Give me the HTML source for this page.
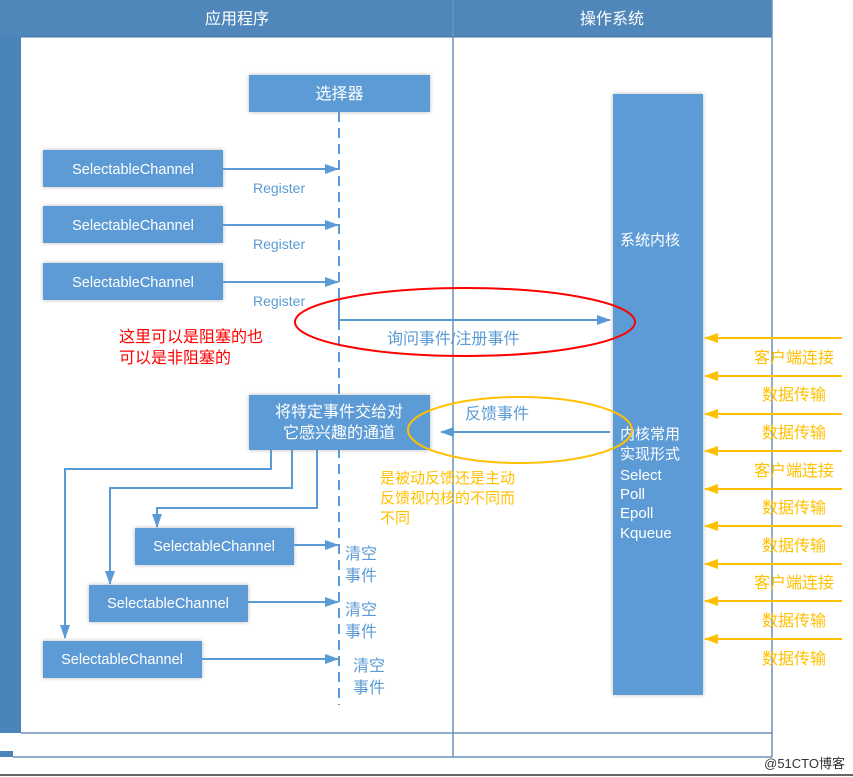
<!DOCTYPE html>
<html><head><meta charset="utf-8"><style>
body{margin:0;width:853px;height:777px;background:#fff;overflow:hidden}
svg{display:block}
text{font-family:"Liberation Sans","Noto Sans CJK SC",sans-serif}
</style></head><body>
<svg width="853" height="777" viewBox="0 0 853 777">
<defs>
<marker id="b" markerWidth="14" markerHeight="12" refX="13" refY="6" orient="auto" markerUnits="userSpaceOnUse"><path d="M0,1 L14,6 L0,11z" fill="#5b9bd5"/></marker>
<marker id="o" markerWidth="14" markerHeight="12" refX="13" refY="6" orient="auto" markerUnits="userSpaceOnUse"><path d="M0,1 L14,6 L0,11z" fill="#ffc000"/></marker>
<filter id="s"><feDropShadow dx="0" dy="0" stdDeviation="2" flood-color="#888" flood-opacity="0.6"/></filter>
</defs>
<rect x="0" y="0" width="21" height="733" fill="#4a84b8"/>
<rect x="0" y="0" width="772" height="37" fill="#4f87bb"/>
<line x1="21" y1="37" x2="772" y2="37" stroke="#3f73a3"/>
<text x="237" y="24" fill="#fff" font-size="16" text-anchor="middle">应用程序</text>
<text x="612" y="24" fill="#fff" font-size="16" text-anchor="middle">操作系统</text>
<line x1="453" y1="0" x2="453" y2="757" stroke="#6a92b8" stroke-width="1.5"/>
<line x1="772" y1="0" x2="772" y2="757" stroke="#6a92b8" stroke-width="1.5"/>
<line x1="21" y1="733" x2="772" y2="733" stroke="#6a92b8" stroke-width="1.5"/>
<rect x="0" y="751" width="13" height="6" fill="#4a84b8"/>
<line x1="13" y1="757" x2="772" y2="757" stroke="#6a92b8" stroke-width="1.5"/>
<line x1="0" y1="775" x2="853" y2="775" stroke="#666" stroke-width="2"/>
<text x="845" y="768" fill="#333" font-size="13" text-anchor="end">@51CTO博客</text>

<line x1="339" y1="112" x2="339" y2="705" stroke="#5b9bd5" stroke-width="2" stroke-dasharray="10,6"/>
<rect x="249" y="75" width="181" height="37" fill="#5b9bd5" filter="url(#s)"/>
<text x="339.5" y="99" fill="#fff" font-size="16" text-anchor="middle">选择器</text>

<g font-size="14.5" fill="#fff">
<rect x="43" y="150" width="180" height="37" fill="#5b9bd5" filter="url(#s)"/><text x="133" y="174" text-anchor="middle">SelectableChannel</text>
<rect x="43" y="206" width="180" height="37" fill="#5b9bd5" filter="url(#s)"/><text x="133" y="230" text-anchor="middle">SelectableChannel</text>
<rect x="43" y="263" width="180" height="37" fill="#5b9bd5" filter="url(#s)"/><text x="133" y="287" text-anchor="middle">SelectableChannel</text>
<rect x="135" y="528" width="159" height="37" fill="#5b9bd5" filter="url(#s)"/><text x="214" y="551" text-anchor="middle">SelectableChannel</text>
<rect x="89" y="585" width="159" height="37" fill="#5b9bd5" filter="url(#s)"/><text x="168" y="608" text-anchor="middle">SelectableChannel</text>
<rect x="43" y="641" width="159" height="37" fill="#5b9bd5" filter="url(#s)"/><text x="122" y="664" text-anchor="middle">SelectableChannel</text>
</g>
<g stroke="#5b9bd5" stroke-width="2" fill="none" marker-end="url(#b)">
<line x1="223" y1="169" x2="338" y2="169"/>
<line x1="223" y1="225" x2="338" y2="225"/>
<line x1="223" y1="282" x2="338" y2="282"/>
<polyline points="339,300 339,320 610,320"/>
<line x1="610" y1="432" x2="441" y2="432"/>
<polyline points="271,450 271,469 65,469 65,638"/>
<polyline points="292,450 292,488 110,488 110,584"/>
<polyline points="317,450 317,508 157,508 157,527"/>
<line x1="294" y1="545" x2="338" y2="545"/>
<line x1="248" y1="602" x2="338" y2="602"/>
<line x1="202" y1="659" x2="338" y2="659"/>
</g>
<g fill="#5b9bd5" font-size="14">
<text x="253" y="193">Register</text><text x="253" y="249">Register</text><text x="253" y="306">Register</text>
</g>
<g fill="#5b9bd5" font-size="16">
<text x="387" y="344">询问事件/注册事件</text>
<text x="465" y="419">反馈事件</text>
<text x="345" y="559">清空</text><text x="345" y="581">事件</text>
<text x="345" y="615">清空</text><text x="345" y="637">事件</text>
<text x="353" y="671">清空</text><text x="353" y="693">事件</text>
</g>
<g fill="#ff0000" font-size="16"><text x="119" y="342">这里可以是阻塞的也</text><text x="119" y="363">可以是非阻塞的</text></g>

<rect x="249" y="395" width="181" height="55" fill="#5b9bd5" filter="url(#s)"/>
<text x="339" y="417" fill="#fff" font-size="16" text-anchor="middle">将特定事件交给对</text>
<text x="339" y="438" fill="#fff" font-size="16" text-anchor="middle">它感兴趣的通道</text>

<g fill="#ffc000" font-size="15"><text x="380" y="483">是被动反馈还是主动</text><text x="380" y="503">反馈视内核的不同而</text><text x="380" y="523">不同</text></g>

<rect x="613" y="94" width="90" height="601" fill="#5b9bd5" filter="url(#s)"/>
<g fill="#fff" font-size="15">
<text x="620" y="245">系统内核</text>
<text x="620" y="439">内核常用</text><text x="620" y="459">实现形式</text>
<text x="620" y="480">Select</text><text x="620" y="499">Poll</text><text x="620" y="518">Epoll</text><text x="620" y="538">Kqueue</text>
</g>
<ellipse cx="465" cy="322" rx="170" ry="34" fill="none" stroke="#ff0000" stroke-width="2"/>
<ellipse cx="520" cy="430" rx="112" ry="33" fill="none" stroke="#ffc000" stroke-width="2"/>

<g stroke="#ffc000" stroke-width="2" marker-end="url(#o)">
<line x1="842" y1="338" x2="705" y2="338"/><line x1="842" y1="376" x2="705" y2="376"/>
<line x1="842" y1="414" x2="705" y2="414"/><line x1="842" y1="451" x2="705" y2="451"/>
<line x1="842" y1="489" x2="705" y2="489"/><line x1="842" y1="526" x2="705" y2="526"/>
<line x1="842" y1="564" x2="705" y2="564"/><line x1="842" y1="601" x2="705" y2="601"/>
<line x1="842" y1="639" x2="705" y2="639"/>
</g>
<g fill="#ffc000" font-size="16" text-anchor="middle">
<text x="794" y="363">客户端连接</text><text x="794" y="400">数据传输</text><text x="794" y="438">数据传输</text>
<text x="794" y="476">客户端连接</text><text x="794" y="513">数据传输</text><text x="794" y="551">数据传输</text>
<text x="794" y="588">客户端连接</text><text x="794" y="626">数据传输</text><text x="794" y="664">数据传输</text>
</g>
</svg>
</body></html>
